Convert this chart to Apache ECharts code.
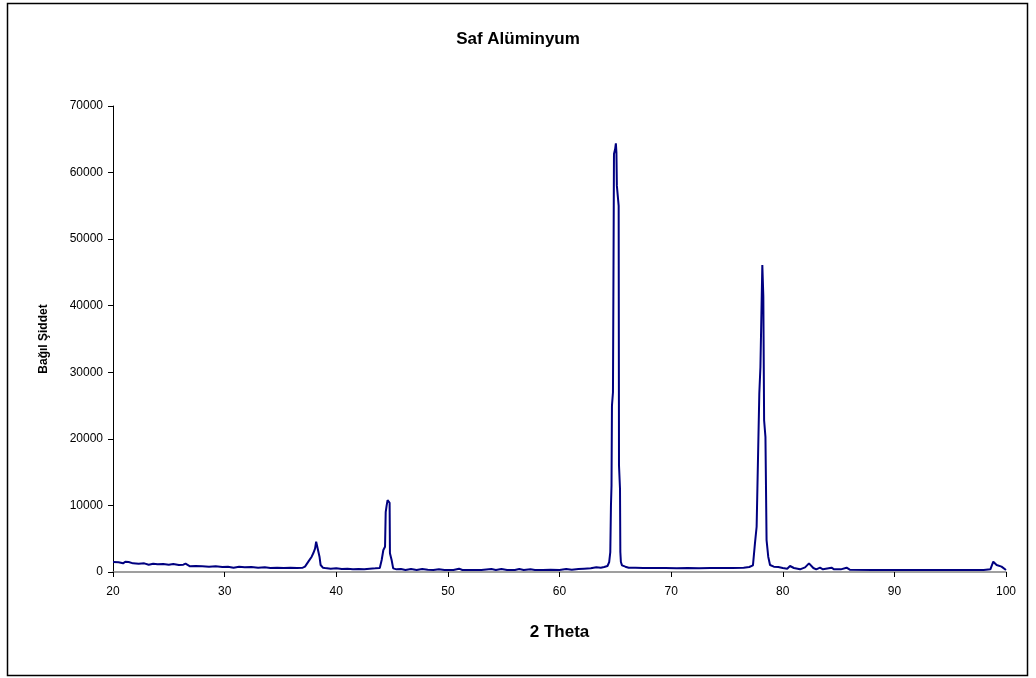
<!DOCTYPE html>
<html>
<head>
<meta charset="utf-8">
<script src="https://cdn.jsdelivr.net/npm/echarts@6/dist/echarts.min.js"></script>
<style>html,body{margin:0;padding:0;background:#fff}#c{width:1036px;height:678px}</style>
</head>
<body>
<div id="c"></div>
<script>
const chartTitle = "Saf Alüminyum";
const xAxisTitle = "2 Theta";
const yAxisTitle = "Bağıl Şiddet";
const xTicks = [20, 30, 40, 50, 60, 70, 80, 90, 100];
const yTicks = [0, 10000, 20000, 30000, 40000, 50000, 60000, 70000];

const theta = [
20,20.5,20.9,21.1,21.4,21.8,22.3,22.8,23.2,23.6,24.0,24.5,25.0,25.4,25.9,26.3,26.5,26.9,27.4,28.0,28.6,29.2,29.8,30.3,30.8,31.3,31.8,32.4,33.0,33.6,34.1,34.7,35.3,35.9,36.5,37.0,
37.2,37.5,37.8,37.95,38.1,38.2,38.35,38.5,38.6,38.8,39.0,
39.5,40.0,40.5,41.0,41.5,42.0,42.5,43.0,43.5,43.9,
44.07,44.22,44.37,44.43,44.52,44.6,44.7,44.78,44.81,44.96,45.1,45.4,
45.8,46.2,46.7,47.2,47.7,48.2,48.7,49.2,49.7,50.5,51.0,51.3,52.0,53.0,53.9,54.3,54.8,55.3,56.0,56.4,56.8,57.4,57.8,58.5,59.2,60.0,60.6,61.1,61.7,62.2,62.8,63.3,63.7,64.0,64.3,
64.45,64.55,64.61,64.66,64.7,64.79,64.88,64.98,65.05,65.1,65.14,65.3,65.33,65.42,65.45,65.5,65.6,65.75,65.9,66.2,
66.8,67.5,68.5,69.5,70.5,71.5,72.5,73.5,74.5,75.5,76.5,77.0,77.33,
77.51,77.66,77.9,78.0,78.17,78.26,78.33,78.45,78.55,78.7,78.86,79.2,79.6,80.0,80.4,80.65,81.0,81.55,82.0,82.35,82.5,82.74,83.0,83.34,83.6,84.37,84.6,85.2,85.72,86.0,
88,90,92,94,96,98,98.6,98.86,99.16,99.6,100
];
const intensity = [
1500,1450,1300,1550,1500,1300,1250,1300,1100,1250,1150,1200,1100,1200,1050,1100,1250,850,900,850,800,850,750,800,650,800,700,750,650,700,600,650,600,650,600,650,
800,1550,2300,2850,3500,4550,4550,2300,1050,650,600,
500,550,450,500,400,450,400,500,550,600,
1800,3300,3800,9000,10050,10800,10800,10400,2800,1800,550,400,
450,300,450,300,450,350,300,400,300,300,500,300,300,300,450,300,450,300,300,450,300,400,300,300,350,300,450,350,450,500,550,700,650,750,900,
1500,3000,10000,13000,25000,27000,62800,63500,64400,63000,58000,55000,16000,12500,3000,1500,1000,700,800,650,
650,600,600,600,550,600,550,600,600,600,650,750,1000,
4300,6800,26800,30800,46100,41400,22800,20300,4800,2300,1050,800,750,600,500,900,600,400,700,1300,1200,600,400,650,400,650,400,400,650,350,
300,300,300,300,300,300,400,1550,1050,800,300
];

const chart = echarts.init(document.getElementById('c'), null, {renderer: 'canvas'});
const font = '"Liberation Sans", Arial, sans-serif';
chart.setOption({
  animation: false,
  backgroundColor: '#ffffff',
  title: {
    text: chartTitle, left: 'center', top: 26,
    textStyle: {fontFamily: font, fontSize: 17, fontWeight: 'bold', color: '#000'}
  },
  graphic: [{
    type: 'rect', shape: {x: 7.5, y: 3.5, width: 1020, height: 672},
    style: {fill: 'none', stroke: '#000', lineWidth: 1.5}, silent: true
  }],
  grid: {left: 113, right: 30, top: 106, bottom: 106, containLabel: false},
  xAxis: {
    type: 'value', min: xTicks[0], max: xTicks[xTicks.length - 1], interval: 10,
    name: xAxisTitle, nameLocation: 'middle', nameGap: 52,
    nameTextStyle: {fontFamily: font, fontSize: 17, fontWeight: 'bold', color: '#000'},
    axisLine: {show: true, onZero: false, lineStyle: {color: '#808080', width: 1.5}},
    axisTick: {show: true, length: 5, lineStyle: {color: '#000'}},
    axisLabel: {fontFamily: font, fontSize: 12, color: '#000', margin: 14, formatter: v => String(v)},
    splitLine: {show: false}
  },
  yAxis: {
    type: 'value', min: yTicks[0], max: yTicks[yTicks.length - 1], interval: 10000,
    name: yAxisTitle, nameLocation: 'middle', nameGap: 63, nameRotate: 90,
    nameTextStyle: {fontFamily: font, fontSize: 12, fontWeight: 'bold', color: '#000'},
    axisLine: {show: true, lineStyle: {color: '#000', width: 1}},
    axisTick: {show: true, length: 5, lineStyle: {color: '#000'}},
    axisLabel: {fontFamily: font, fontSize: 12, color: '#000', margin: 10, formatter: v => String(v)},
    splitLine: {show: false}
  },
  series: [{
    type: 'line',
    data: theta.map((t, i) => [t, intensity[i]]),
    showSymbol: false,
    lineStyle: {color: '#000080', width: 2},
    clip: true
  }]
});
</script>
</body>
</html>
